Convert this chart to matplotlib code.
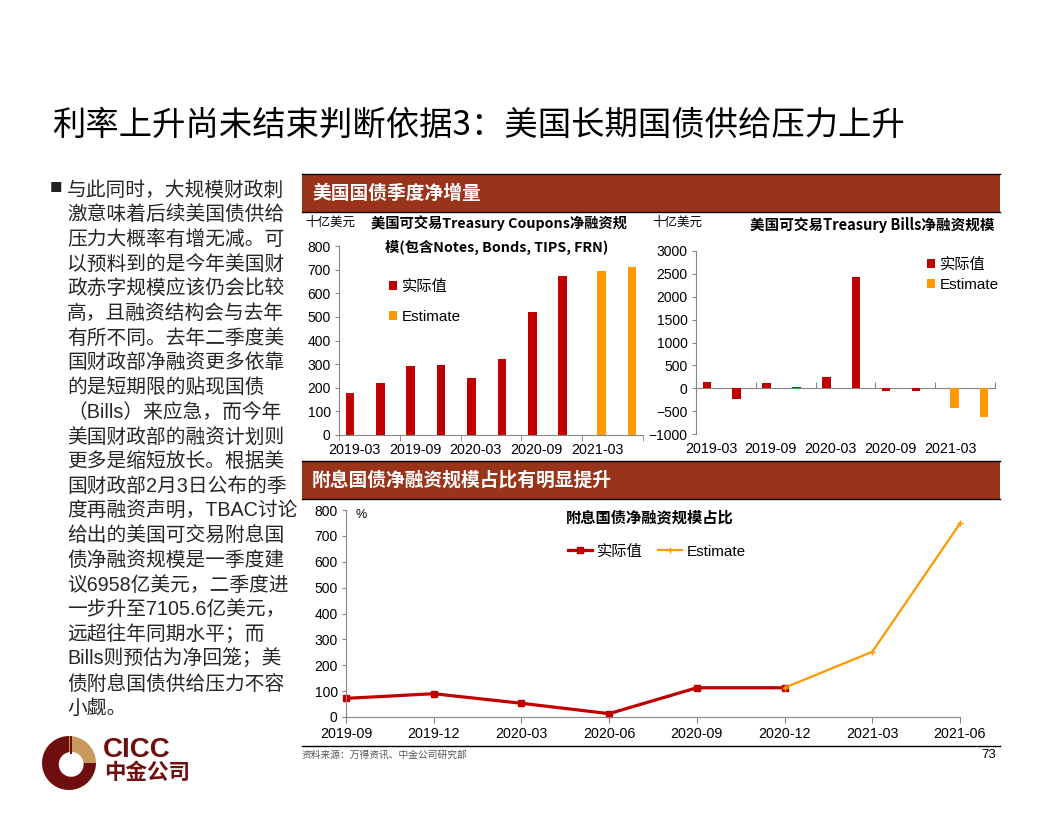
import numpy as np
import matplotlib
matplotlib.use("Agg")
import matplotlib.pyplot as plt
from matplotlib.patches import Rectangle, Wedge, Circle
from matplotlib.lines import Line2D

plt.rcParams['font.family'] = ['Liberation Sans', 'Noto Sans CJK SC', 'DejaVu Sans']

# data
quarters = ['2019-03', '2019-06', '2019-09', '2019-12', '2020-03',
            '2020-06', '2020-09', '2020-12', '2021-03', '2021-06']
coupon_actual = [177, 220, 292, 296, 241, 321, 520, 672, np.nan, np.nan]
coupon_est = [np.nan] * 8 + [696, 711]
bills_actual = [140, -234, 117, 29, 248, 2430, -57, -55, np.nan, np.nan]
bills_est = [np.nan] * 8 + [-431, -625]

share_quarters = ['2019-09', '2019-12', '2020-03', '2020-06',
                  '2020-09', '2020-12', '2021-03', '2021-06']
share_actual = [72, 90, 53, 13, 113, 113, np.nan, np.nan]
share_est = [np.nan] * 5 + [113, 252, 748]

title = '利率上升尚未结束判断依据3：美国长期国债供给压力上升'
body_lines = [
    '与此同时，大规模财政刺',
    '激意味着后续美国债供给',
    '压力大概率有增无减。可',
    '以预料到的是今年美国财',
    '政赤字规模应该仍会比较',
    '高，且融资结构会与去年',
    '有所不同。去年二季度美',
    '国财政部净融资更多依靠',
    '的是短期限的贴现国债',
    '（Bills）来应急，而今年',
    '美国财政部的融资计划则',
    '更多是缩短放长。根据美',
    '国财政部2月3日公布的季',
    '度再融资声明，TBAC讨论',
    '给出的美国可交易附息国',
    '债净融资规模是一季度建',
    '议6958亿美元，二季度进',
    '一步升至7105.6亿美元，',
    '远超往年同期水平；而',
    'Bills则预估为净回笼；美',
    '债附息国债供给压力不容',
    '小觑。',
]

RED = '#C00000'
ORANGE = '#FF9900'
BAND = '#993319'
AXIS = '#868686'
LOGO_RED = '#6E0E0E'
LOGO_TAN = '#C99A5B'
CJK = ['Noto Sans CJK SC', 'DejaVu Sans']

W, H = 1056, 816


def fx(px):
    return px / W


def fy(py):
    return 1 - py / H


def box(x0, y0, x1, y1):
    return [fx(x0), fy(y1), (x1 - x0) / W, (y1 - y0) / H]


fig = plt.figure(figsize=(10.56, 8.16), dpi=100)

# slide title
fig.text(fx(52), fy(125), title, fontsize=24, family=CJK, va='center', ha='left')

# bullet text
fig.text(fx(50), fy(189), '■', fontsize=9, family=CJK, va='center', ha='left', color='#222222')
for i, line in enumerate(body_lines):
    fig.text(fx(67), fy(190 + i * 24.7), line, fontsize=14.2, va='center', ha='left',
             color='#262626')

# section bands
for (y0, y1, label) in [(174, 212, '美国国债季度净增量'), (461, 499, '附息国债净融资规模占比有明显提升')]:
    fig.add_artist(Rectangle((fx(302), fy(y1)), (1000 - 302) / W, (y1 - y0) / H,
                             transform=fig.transFigure, color=BAND, lw=0))
    for yy in (y0, y1):
        fig.add_artist(Line2D([fx(302), fx(1000)], [fy(yy), fy(yy)],
                              transform=fig.transFigure, color='black', lw=1))
    fig.text(fx(312), fy((y0 + y1) / 2), label, fontsize=13.5, family=CJK,
             weight='bold', color='white', va='center', ha='left')


def bar_panel(ax, actual, est, lo, hi, step):
    x = np.arange(len(quarters))
    w = 0.28
    ax.bar(x - w / 2, actual, w, color=RED, label='实际值')
    ax.bar(x + w / 2, est, w, color=ORANGE, label='Estimate')
    ax.set_xlim(-0.5, len(quarters) - 0.5)
    ax.set_ylim(lo, hi)
    ax.set_yticks(np.arange(lo, hi + 1, step))
    ax.set_xticks(x[::2])
    ax.set_xticklabels(quarters[::2])
    ax.tick_params(axis='x', which='major', length=0, pad=6, labelsize=10.3)
    ax.tick_params(axis='y', length=3, color=AXIS, labelsize=10, pad=3)
    for s in ['top', 'right']:
        ax.spines[s].set_visible(False)
    for s in ['left', 'bottom']:
        ax.spines[s].set_color(AXIS)
    ax.patch.set_alpha(0)


# coupons panel
ax1 = fig.add_axes(box(339, 246, 643, 435))
bar_panel(ax1, coupon_actual, coupon_est, 0, 800, 100)
ax1.set_xticks(np.arange(-0.5, len(quarters), 2), minor=True)
ax1.tick_params(axis='x', which='minor', length=4, color=AXIS)
ax1.legend(loc='upper left', bbox_to_anchor=(fx(381), fy(272)), bbox_transform=fig.transFigure,
           frameon=False, fontsize=11, borderpad=0, handlelength=0.55, handleheight=0.55,
           handletextpad=0.3, labelspacing=1.05)
fig.text(fx(305), fy(222), '十亿美元', fontsize=9, family=CJK, va='center', ha='left')
fig.text(fx(499), fy(223), '美国可交易Treasury Coupons净融资规', fontsize=10.3, family=CJK,
         weight='bold', va='center', ha='center')
fig.text(fx(497), fy(247), '模(包含Notes, Bonds, TIPS, FRN)', fontsize=10.3, family=CJK,
         weight='bold', va='center', ha='center')

# bills panel
ax2 = fig.add_axes(box(696, 251, 995, 434))
bar_panel(ax2, bills_actual, bills_est, -1000, 3000, 500)
ax2.spines['bottom'].set_visible(False)
zero = ax2.secondary_xaxis(1000 / 4000)
zero.set_xticks(np.arange(-0.5, len(quarters), 2))
zero.tick_params(axis='x', direction='in', length=4, color=AXIS, labelbottom=False, labeltop=False)
for s in zero.spines.values():
    s.set_color(AXIS)
ax2.legend(loc='upper left', bbox_to_anchor=(fx(919), fy(250)), bbox_transform=fig.transFigure,
           frameon=False, fontsize=11, borderpad=0, handlelength=0.55, handleheight=0.55,
           handletextpad=0.3, labelspacing=0.4)
fig.text(fx(652), fy(222), '十亿美元', fontsize=9, family=CJK, va='center', ha='left')
fig.text(fx(995), fy(225), '美国可交易Treasury Bills净融资规模', fontsize=10.5, family=CJK,
         weight='bold', va='center', ha='right')

# share line panel
ax3 = fig.add_axes(box(346, 510, 960, 717))
xs = np.arange(len(share_quarters))
ax3.plot(xs, share_actual, color=RED, lw=2.3, marker='s', ms=4, label='实际值', clip_on=False)
ax3.plot(xs, share_est, color=ORANGE, lw=1.6, marker='+', ms=4, mew=1, label='Estimate',
         clip_on=False)
ax3.set_xlim(0, len(share_quarters) - 1)
ax3.set_ylim(0, 800)
ax3.set_yticks(np.arange(0, 801, 100))
ax3.set_xticks(xs)
ax3.set_xticklabels(share_quarters)
ax3.tick_params(axis='x', length=4, color=AXIS, labelsize=10.3, pad=3)
ax3.tick_params(axis='y', length=3, color=AXIS, labelsize=10, pad=3)
for s in ['top', 'right']:
    ax3.spines[s].set_visible(False)
for s in ['left', 'bottom']:
    ax3.spines[s].set_color(AXIS)
ax3.patch.set_alpha(0)
ax3.legend(loc='upper left', bbox_to_anchor=(fx(560), fy(537)), bbox_transform=fig.transFigure,
           frameon=False, fontsize=11, borderpad=0, ncol=2, handlelength=1.6,
           handletextpad=0.3, columnspacing=1.0)
fig.text(fx(356), fy(515), '%', fontsize=9, va='center', ha='left')
fig.text(fx(650), fy(518), '附息国债净融资规模占比', fontsize=11, family=CJK, weight='bold',
         va='center', ha='center')

# footer
fig.add_artist(Line2D([fx(302), fx(1000)], [fy(746), fy(746)], transform=fig.transFigure,
                      color='black', lw=1))
fig.text(fx(302), fy(755), '资料来源：万得资讯、中金公司研究部', fontsize=7, family=CJK,
         color='#555555', va='center', ha='left')
fig.text(fx(996), fy(755), '73', fontsize=9.5, va='center', ha='right')

# logo
lax = fig.add_axes(box(42, 736, 96, 790))
lax.set_xlim(-1, 1)
lax.set_ylim(-1, 1)
lax.set_aspect('equal')
lax.axis('off')
lax.add_patch(Wedge((0, 0), 1, 90, 360, color=LOGO_RED, lw=0))
lax.add_patch(Wedge((0, 0), 1, 0, 90, color=LOGO_TAN, lw=0))
lax.add_patch(Circle((0.08, -0.05), 0.46, color='white', lw=0))
lax.add_patch(Rectangle((0.02, 0.35), 0.09, 0.65, color=LOGO_RED, lw=0))
fig.text(fx(103), fy(750), 'CICC', fontsize=20, weight='bold', color=LOGO_RED,
         va='center', ha='left')
fig.text(fx(104), fy(772), '中金公司', fontsize=15.5, family=CJK, weight='bold', color=LOGO_RED,
         va='center', ha='left')

fig.savefig('out.png', dpi=100)
